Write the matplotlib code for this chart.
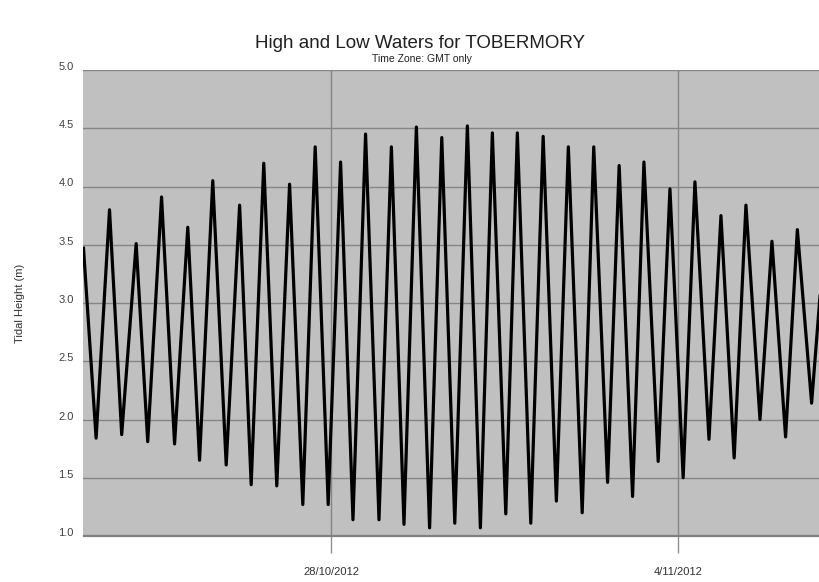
import matplotlib
matplotlib.use("Agg")
import matplotlib.pyplot as plt
import matplotlib.transforms as mtransforms
import pandas as pd

plt.rcParams['font.family'] = ['Liberation Sans', 'DejaVu Sans']

# Alternating high / low water times (GMT) and heights in metres
tide_times = [
    "2012-10-23 00:00", "2012-10-23 06:06", "2012-10-23 12:36", "2012-10-23 18:30",
    "2012-10-24 01:30", "2012-10-24 07:06", "2012-10-24 13:48", "2012-10-24 20:06",
    "2012-10-25 02:30", "2012-10-25 08:12", "2012-10-25 14:36", "2012-10-25 21:06",
    "2012-10-26 03:36", "2012-10-26 09:12", "2012-10-26 15:18", "2012-10-26 21:36",
    "2012-10-27 03:48", "2012-10-27 10:12", "2012-10-27 16:12", "2012-10-27 22:30",
    "2012-10-28 04:30", "2012-10-28 10:30", "2012-10-28 16:36", "2012-10-28 23:06",
    "2012-10-29 05:06", "2012-10-29 11:12", "2012-10-29 17:12", "2012-10-29 23:36",
    "2012-10-30 05:30", "2012-10-30 11:48", "2012-10-30 17:54", "2012-10-31 00:12",
    "2012-10-31 06:00", "2012-10-31 12:30", "2012-10-31 18:06", "2012-11-01 00:36",
    "2012-11-01 06:36", "2012-11-01 13:00", "2012-11-01 18:48", "2012-11-02 01:30",
    "2012-11-02 07:06", "2012-11-02 13:48", "2012-11-02 19:24", "2012-11-03 01:54",
    "2012-11-03 07:24", "2012-11-03 14:18", "2012-11-03 20:00", "2012-11-04 02:24",
    "2012-11-04 08:06", "2012-11-04 14:54", "2012-11-04 20:42", "2012-11-05 03:06",
    "2012-11-05 08:48", "2012-11-05 15:36", "2012-11-05 21:24", "2012-11-06 04:00",
    "2012-11-06 09:42", "2012-11-06 16:36", "2012-11-06 22:24",
]
tide_heights = [
    3.47, 1.84, 3.80, 1.87,
    3.51, 1.81, 3.91, 1.79,
    3.65, 1.65, 4.05, 1.61,
    3.84, 1.44, 4.20, 1.43,
    4.02, 1.27, 4.34, 1.27,
    4.21, 1.14, 4.45, 1.14,
    4.34, 1.10, 4.51, 1.07,
    4.42, 1.11, 4.52, 1.07,
    4.46, 1.19, 4.46, 1.11,
    4.43, 1.30, 4.34, 1.20,
    4.34, 1.46, 4.18, 1.34,
    4.21, 1.64, 3.98, 1.50,
    4.04, 1.83, 3.75, 1.67,
    3.84, 2.00, 3.53, 1.85,
    3.63, 2.14, 3.45,
]
x_range = ["2012-10-23 00:00", "2012-11-06 20:40"]
date_ticks = ["2012-10-28", "2012-11-04"]
date_tick_labels = ["28/10/2012", "4/11/2012"]
height_ticks = [1.0, 1.5, 2.0, 2.5, 3.0, 3.5, 4.0, 4.5, 5.0]

times = pd.to_datetime(tide_times)
fig = plt.figure(figsize=(8.2, 5.82), dpi=100)
ax = fig.add_axes([83.5 / 820, 46 / 582, (820 - 83.5) / 820, 466 / 582])
ax.set_facecolor("#c0c0c0")

ax.plot(times, tide_heights, color="black", linewidth=2.3, zorder=3)

ax.set_xlim(pd.to_datetime(x_range[0]), pd.to_datetime(x_range[1]))
ax.set_ylim(1.0, 5.0)

ax.set_yticks(height_ticks)
ax.set_yticklabels([f"{v:.1f}" for v in height_ticks])
ax.set_xticks(pd.to_datetime(date_ticks))
ax.set_xticklabels(date_tick_labels)

ax.grid(True, color="#858585", linewidth=1.0, zorder=1)
ax.set_axisbelow(True)
for name, sp in ax.spines.items():
    sp.set_visible(False)
ax.spines["bottom"].set_visible(True)
ax.spines["bottom"].set_color("#808080")
ax.spines["bottom"].set_linewidth(1.6)

ax.tick_params(axis="y", length=0, pad=7, labelsize=8, labelcolor="#404040")
ax.tick_params(axis="x", length=12, width=1.0, color="#909090", pad=10,
               labelsize=8, labelcolor="#303030")

# y labels sit slightly above their gridlines
lift = mtransforms.ScaledTranslation(0, 4 / 100, fig.dpi_scale_trans)
for lbl in ax.get_yticklabels():
    lbl.set_transform(lbl.get_transform() + lift)

ax.set_ylabel("Tidal Height (m)", fontsize=8, color="#303030", labelpad=24)

fig.text(420 / 820, 1 - 43 / 582, "High and Low Waters for TOBERMORY",
         ha="center", va="center", fontsize=13.5, color="#202020")
fig.text(422 / 820, 1 - 59 / 582, "Time Zone: GMT only",
         ha="center", va="center", fontsize=7.5, color="#202020")

fig.savefig("out.png", dpi=100)
